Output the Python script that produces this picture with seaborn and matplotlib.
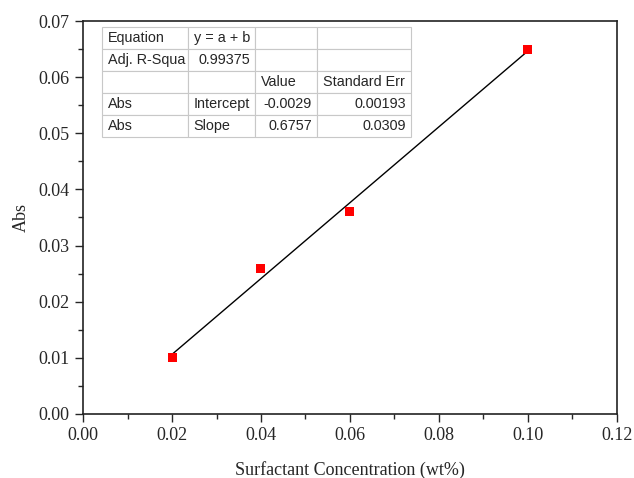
import numpy as np
import pandas as pd
import matplotlib
matplotlib.use("Agg")
import matplotlib.pyplot as plt
import seaborn as sns
from matplotlib.ticker import MultipleLocator, FormatStrFormatter

# data
conc = [0.02, 0.04, 0.06, 0.10]
absorb = [0.010, 0.026, 0.036, 0.065]
intercept = -0.0029
slope = 0.6757

table_rows = [
    ["Equation", "y = a + b", "", ""],
    ["Adj. R-Squa", "0.99375", "", ""],
    ["", "", "Value", "Standard Err"],
    ["Abs", "Intercept", "-0.0029", "0.00193"],
    ["Abs", "Slope", "0.6757", "0.0309"],
]
col_px = [86, 67, 62, 94]

sns.set_style("ticks")
plt.rcParams["font.family"] = ["Liberation Serif", "DejaVu Serif"]

fig = plt.figure(figsize=(6.34, 4.78), dpi=100)
ax = fig.add_axes([0.131, 0.134, 0.842, 0.822])

df = pd.DataFrame({"conc": conc, "abs": absorb})
fit_x = np.array([min(conc), max(conc)])
fit = pd.DataFrame({"conc": fit_x, "abs": intercept + slope * fit_x})
sns.lineplot(data=fit, x="conc", y="abs", color="black", linewidth=1.0, ax=ax)
sns.scatterplot(data=df, x="conc", y="abs", marker="s", color="red", s=42,
                edgecolor="none", ax=ax, zorder=3)

ax.set_xlim(0, 0.12)
ax.set_ylim(0, 0.07)
ax.xaxis.set_major_locator(MultipleLocator(0.02))
ax.xaxis.set_minor_locator(MultipleLocator(0.01))
ax.yaxis.set_major_locator(MultipleLocator(0.01))
ax.yaxis.set_minor_locator(MultipleLocator(0.005))
ax.xaxis.set_major_formatter(FormatStrFormatter("%.2f"))
ax.yaxis.set_major_formatter(FormatStrFormatter("%.2f"))
ax.tick_params(which="major", length=6, width=1.0, labelsize=13, direction="out")
ax.tick_params(which="minor", length=3.5, width=1.0, direction="out")
for sp in ax.spines.values():
    sp.set_linewidth(1.2)
    sp.set_color("#222222")
ax.set_xlabel("Surfactant Concentration (wt%)", fontsize=13, labelpad=12)
ax.set_ylabel("Abs", fontsize=13, labelpad=6)

# fit summary table
tbl = ax.table(cellText=table_rows, bbox=[0.036, 0.705, 0.579, 0.280],
               colWidths=col_px, cellLoc="left")
tbl.auto_set_font_size(False)
for (r, c), cell in tbl.get_celld().items():
    cell.set_edgecolor("#c8c8c8")
    cell.set_linewidth(0.8)
    txt = cell.get_text()
    txt.set_fontsize(10.4)
    txt.set_fontfamily(["Liberation Sans", "DejaVu Sans"])
    s = txt.get_text()
    if s and (s[0].isdigit() or s[0] == "-"):
        cell._loc = "right"
        txt.set_horizontalalignment("right")
    cell.PAD = 5.5 / col_px[c]

fig.savefig("out.png", dpi=100)
